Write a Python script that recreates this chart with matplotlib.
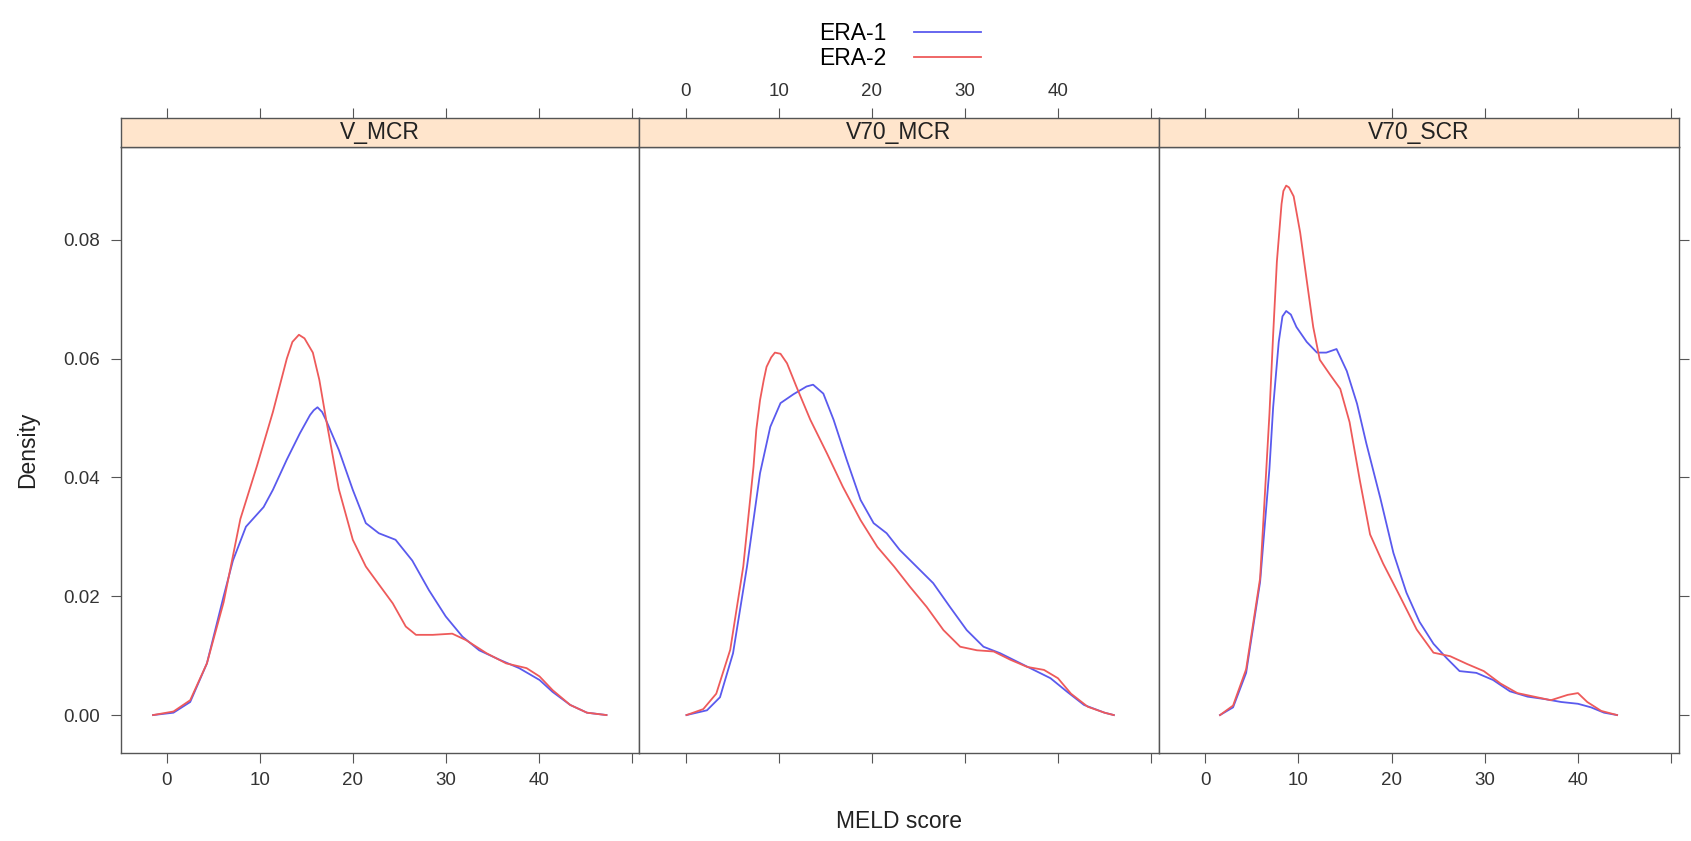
import matplotlib
matplotlib.use("Agg")
import matplotlib.pyplot as plt

plt.rcParams['font.family'] = ['Liberation Sans', 'DejaVu Sans']

panels = ["V_MCR", "V70_MCR", "V70_SCR"]
groups = ["ERA-1", "ERA-2"]
colors = {"ERA-1": "#5a5aee", "ERA-2": "#ee5a5a"}

# ---- density curves ----
# V_MCR
v_mcr_era1_x = [-1.5, 0.7, 2.5, 4.3, 6.1, 7.1, 8.5, 10.4, 11.4, 12.9, 14.3, 15.4, 15.8, 16.2, 16.7,
                17.1, 18.5, 20.0, 21.4, 22.8, 24.6, 26.4, 28.2, 30.0, 31.8, 33.6, 35.8, 37.9, 40.1,
                41.5, 43.4, 45.2, 47.3]
v_mcr_era1_y = [0.0, 0.0004, 0.0022, 0.0087, 0.020, 0.026, 0.0317, 0.035, 0.0379, 0.043, 0.0474,
                0.0505, 0.0513, 0.0518, 0.0510, 0.0497, 0.0446, 0.0379, 0.0323, 0.0306, 0.0295,
                0.026, 0.021, 0.0166, 0.0132, 0.0109, 0.0093, 0.0079, 0.0059, 0.0039, 0.0017,
                0.0004, 0.0]
v_mcr_era2_x = [-1.5, 0.7, 2.5, 4.3, 6.1, 7.9, 9.7, 11.4, 12.9, 13.5, 14.2, 14.8, 15.7, 16.4, 17.1,
                18.5, 20.0, 21.4, 22.8, 24.3, 25.7, 26.8, 28.6, 30.7, 32.2, 34.4, 36.5, 38.7, 40.1,
                41.5, 43.4, 45.2, 47.3]
v_mcr_era2_y = [0.0, 0.0006, 0.0025, 0.0087, 0.019, 0.033, 0.042, 0.051, 0.060, 0.0628, 0.064,
                0.0634, 0.061, 0.0564, 0.050, 0.038, 0.0295, 0.025, 0.022, 0.0188, 0.0149, 0.0135,
                0.0135, 0.0137, 0.0126, 0.0104, 0.0087, 0.0079, 0.0065, 0.0042, 0.0017, 0.0004, 0.0]

# V70_MCR
v70_mcr_era1_x = [0.1, 2.3, 3.7, 5.1, 6.6, 8.0, 9.1, 10.2, 11.6, 13.0, 13.7, 14.8, 15.9, 17.3, 18.8,
                  20.2, 21.6, 23.0, 24.8, 26.6, 28.4, 30.2, 32.0, 33.8, 35.6, 37.4, 39.2, 41.0, 42.8,
                  45.0, 46.0]
v70_mcr_era1_y = [0.0, 0.0008, 0.003, 0.0104, 0.025, 0.0407, 0.0485, 0.0525, 0.054, 0.0553, 0.0556,
                  0.0541, 0.0497, 0.043, 0.0362, 0.0323, 0.0306, 0.0278, 0.025, 0.0222, 0.0182,
                  0.0143, 0.0115, 0.0104, 0.009, 0.0076, 0.0062, 0.0039, 0.0017, 0.0004, 0.0]
v70_mcr_era2_x = [0.1, 1.9, 3.3, 4.8, 6.2, 7.3, 7.6, 8.0, 8.4, 8.7, 9.2, 9.6, 10.2, 10.9, 11.9, 13.4,
                  15.2, 16.9, 18.8, 20.6, 22.4, 24.1, 25.9, 27.7, 29.5, 31.3, 33.1, 34.9, 36.7, 38.5,
                  40.0, 41.4, 43.2, 45.0, 46.0]
v70_mcr_era2_y = [0.0, 0.001, 0.0036, 0.011, 0.025, 0.0418, 0.048, 0.053, 0.0564, 0.0586, 0.0602,
                  0.061, 0.0608, 0.0592, 0.0553, 0.0497, 0.044, 0.0384, 0.0328, 0.0283, 0.025,
                  0.0216, 0.0182, 0.0143, 0.0115, 0.0109, 0.0107, 0.0093, 0.0081, 0.0076, 0.0062,
                  0.0036, 0.0014, 0.0004, 0.0]

# V70_SCR
v70_scr_era1_x = [1.6, 3.0, 4.4, 5.9, 6.9, 7.3, 7.9, 8.3, 8.7, 9.2, 9.8, 10.9, 12.0, 13.0, 14.1,
                  15.2, 16.3, 17.3, 18.8, 20.2, 21.6, 23.0, 24.5, 25.9, 27.3, 29.1, 30.9, 32.7, 34.6,
                  36.4, 38.2, 40.0, 41.4, 42.8, 44.2]
v70_scr_era1_y = [0.0, 0.0013, 0.0071, 0.0224, 0.0414, 0.0518, 0.0628, 0.0671, 0.068, 0.0674,
                  0.0653, 0.0628, 0.061, 0.061, 0.0616, 0.0579, 0.0524, 0.0457, 0.0365, 0.0273,
                  0.0206, 0.0157, 0.012, 0.0096, 0.0074, 0.0071, 0.0059, 0.004, 0.0031, 0.0027,
                  0.0022, 0.0019, 0.0013, 0.0004, 0.0]
v70_scr_era2_x = [1.6, 3.0, 4.4, 5.9, 6.9, 7.3, 7.7, 8.2, 8.4, 8.7, 9.0, 9.5, 10.2, 10.9, 11.6, 12.3,
                  13.4, 14.5, 15.5, 16.6, 17.7, 19.1, 20.9, 22.7, 24.5, 26.3, 28.1, 29.9, 31.7, 33.5,
                  35.3, 37.1, 38.9, 40.0, 41.0, 42.5, 44.2]
v70_scr_era2_y = [0.0, 0.0016, 0.0077, 0.023, 0.0506, 0.064, 0.0763, 0.086, 0.0882, 0.0891, 0.0888,
                  0.0873, 0.0812, 0.0732, 0.0653, 0.0598, 0.0573, 0.0549, 0.0493, 0.0395, 0.0304,
                  0.0255, 0.020, 0.0144, 0.0105, 0.0099, 0.0086, 0.0074, 0.0053, 0.0037, 0.0031,
                  0.0025, 0.0034, 0.0037, 0.0022, 0.0007, 0.0]

curves = {
    "V_MCR": {"ERA-1": (v_mcr_era1_x, v_mcr_era1_y), "ERA-2": (v_mcr_era2_x, v_mcr_era2_y)},
    "V70_MCR": {"ERA-1": (v70_mcr_era1_x, v70_mcr_era1_y), "ERA-2": (v70_mcr_era2_x, v70_mcr_era2_y)},
    "V70_SCR": {"ERA-1": (v70_scr_era1_x, v70_scr_era1_y), "ERA-2": (v70_scr_era2_x, v70_scr_era2_y)},
}

x_ticks = [0, 10, 20, 30, 40, 50]
x_labels = ["0", "10", "20", "30", "40", ""]
y_ticks = [0.00, 0.02, 0.04, 0.06, 0.08]
y_labels = ["0.00", "0.02", "0.04", "0.06", "0.08"]

# ---- layout (pixels) ----
W, H = 1691, 841
edge = "#555555"
fs = 16.5       # main text
tfs = 13.5      # tick labels


def box(l, t, r, b):
    return [l / W, 1 - b / H, (r - l) / W, (b - t) / H]


fig = plt.figure(figsize=(W / 100, H / 100), dpi=100)
lefts = [120.5, 639, 1158.5]
rights = [639, 1158.5, 1678.6]
strip_top, panel_top, panel_bot = 118, 147, 752.5
xlim = (-5.0, 50.8)
ylim = (-0.0063, 0.0956)

handles = []
for i, name in enumerate(panels):
    ax = fig.add_axes(box(lefts[i], panel_top, rights[i], panel_bot))
    st = fig.add_axes(box(lefts[i], strip_top, rights[i], panel_top))

    for g in groups:
        xs, ys = curves[name][g]
        ln, = ax.plot(xs, ys, color=colors[g], lw=1.3, label=g)
        if i == 0:
            handles.append(ln)

    ax.set_xlim(xlim)
    ax.set_ylim(ylim)
    ax.set_xticks(x_ticks)
    ax.tick_params(axis='both', direction='out', length=7, width=0.8, color=edge,
                   labelsize=tfs, labelcolor="#333333", pad=7)
    ax.tick_params(axis='y', pad=8)
    if i == 1:
        ax.set_xticklabels([])
    else:
        ax.set_xticklabels(x_labels)
    ax.set_yticks(y_ticks)
    if i == 0:
        ax.set_yticklabels(y_labels)
    elif i == 2:
        ax.yaxis.tick_right()
        ax.set_yticklabels([])
    else:
        ax.tick_params(axis='y', left=False, labelleft=False)
    for sp in ax.spines.values():
        sp.set_color(edge)
        sp.set_linewidth(1.0)

    # strip with top axis
    st.set_facecolor("#ffe5cc")
    st.set_xlim(xlim)
    st.set_ylim(0, 1)
    st.set_yticks([])
    st.xaxis.tick_top()
    st.set_xticks(x_ticks)
    st.tick_params(axis='x', direction='out', length=7, width=0.8, color=edge,
                   labelsize=tfs, labelcolor="#333333", pad=6)
    if i == 1:
        st.set_xticklabels(x_labels)
    else:
        st.set_xticklabels([])
    for sp in st.spines.values():
        sp.set_color(edge)
        sp.set_linewidth(1.0)
    st.text(0.5, 0.5, name, transform=st.transAxes, ha='center', va='center',
            fontsize=fs, color="#222222")

fig.text(899.5 / W, 1 - 821 / H, "MELD score", ha='center', va='center', fontsize=fs,
         color="#222222")
fig.text(28 / W, 1 - 450 / H, "Density", ha='center', va='center', rotation=90,
         fontsize=fs, color="#222222")

fig.legend(handles, groups, loc='upper center', bbox_to_anchor=(900 / W, 1 - 11 / H),
           frameon=False, markerfirst=False, fontsize=fs, handlelength=2.9,
           handletextpad=1.2, labelspacing=0.06, borderpad=0)

fig.savefig("out.png", dpi=100)
